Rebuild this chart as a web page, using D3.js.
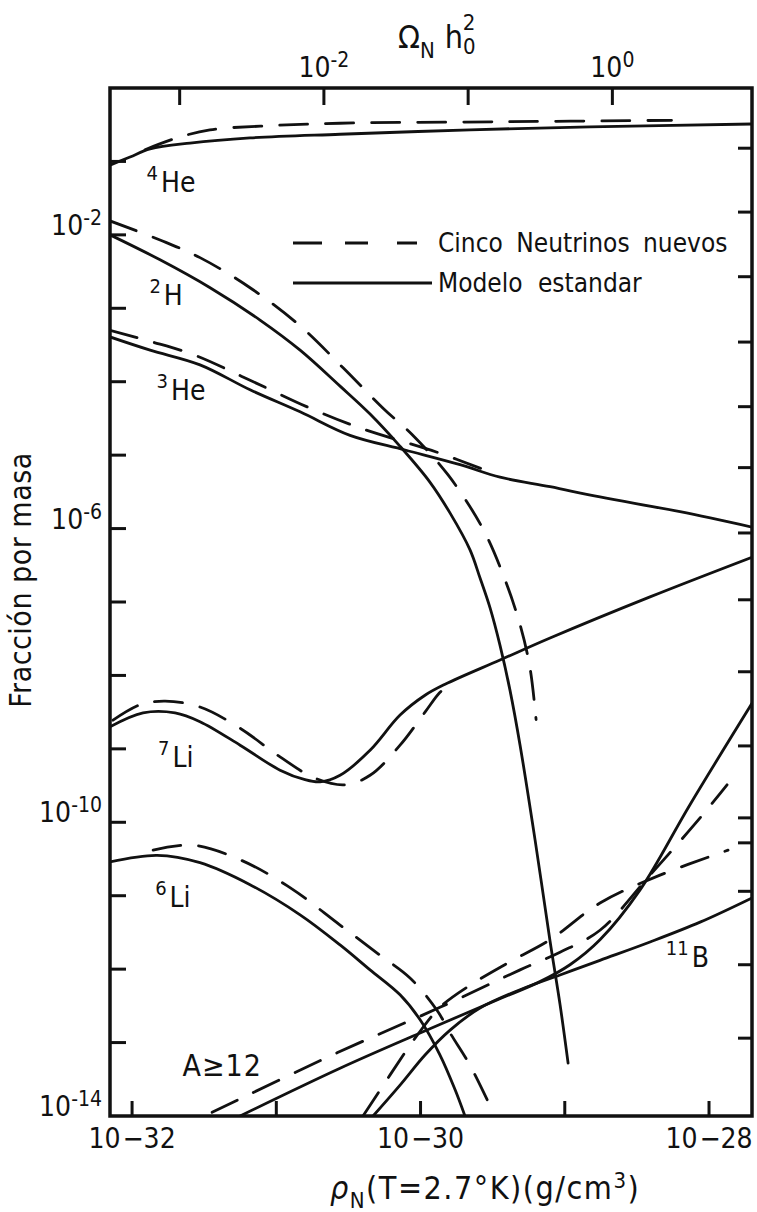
<!DOCTYPE html>
<html>
<head>
<meta charset="utf-8">
<script src="https://cdn.jsdelivr.net/npm/d3@7"></script>
<style>
  body { margin: 0; background: #fff; }
  svg text { font-family: "DejaVu Sans Condensed", "Liberation Sans Narrow", "Roboto Condensed", "DejaVu Sans", sans-serif; fill: #111; }
</style>
</head>
<body>
<div id="chart"></div>
<script>
// all values are log10: [log10 rho (g/cm3), log10 mass fraction]
const he4Std = [[-32.153,-1.05],[-32.014,-0.94],[-31.875,-0.83],[-31.598,-0.75],[-31.182,-0.68],[-30.558,-0.63],[-29.657,-0.57],[-28.825,-0.53],[-27.702,-0.49]];
const he4New = [[-31.91,-0.84],[-31.69,-0.68],[-31.46,-0.57],[-31.11,-0.52],[-30.56,-0.48],[-29.45,-0.46],[-28.26,-0.44]];
const h2Std = [[-32.153,-2.00],[-31.806,-2.34],[-31.459,-2.72],[-31.113,-3.16],[-30.835,-3.57],[-30.558,-4.06],[-30.350,-4.44],[-30.142,-4.88],[-29.934,-5.37],[-29.795,-5.79],[-29.657,-6.29],[-29.588,-6.67],[-29.518,-7.08],[-29.449,-7.59],[-29.380,-8.20],[-29.310,-8.95],[-29.206,-10.24],[-29.102,-11.62],[-29.033,-12.48],[-28.977,-13.28]];
const h2New = [[-32.153,-1.81],[-31.806,-2.07],[-31.529,-2.31],[-31.182,-2.72],[-30.835,-3.24],[-30.537,-3.81],[-30.260,-4.36],[-30.059,-4.72],[-29.809,-5.27],[-29.574,-5.98],[-29.435,-6.59],[-29.310,-7.31],[-29.241,-7.90],[-29.199,-8.60]];
const he3Std = [[-32.153,-3.39],[-31.875,-3.57],[-31.529,-3.77],[-31.182,-4.11],[-30.835,-4.41],[-30.489,-4.73],[-30.107,-4.93],[-29.726,-5.13],[-29.449,-5.30],[-29.102,-5.43],[-28.756,-5.57],[-28.201,-5.77],[-27.702,-5.98]];
const he3New = [[-32.153,-3.30],[-31.875,-3.45],[-31.563,-3.64],[-31.182,-3.98],[-30.766,-4.36],[-30.419,-4.63],[-29.886,-4.96],[-29.518,-5.23]];
const li7Std = [[-32.153,-8.70],[-31.924,-8.51],[-31.702,-8.51],[-31.529,-8.63],[-31.251,-8.95],[-30.974,-9.29],[-30.801,-9.42],[-30.697,-9.45],[-30.558,-9.36],[-30.350,-9.02],[-30.142,-8.54],[-29.969,-8.27],[-29.830,-8.12],[-29.449,-7.79],[-29.102,-7.49],[-28.409,-6.93],[-27.702,-6.39]];
const li7New = [[-32.132,-8.61],[-31.945,-8.40],[-31.771,-8.35],[-31.529,-8.43],[-31.251,-8.72],[-30.974,-9.11],[-30.731,-9.40],[-30.523,-9.49],[-30.350,-9.36],[-30.142,-8.95],[-29.969,-8.50],[-29.865,-8.23],[-29.795,-8.12]];
const li6Std = [[-32.153,-10.54],[-31.827,-10.45],[-31.529,-10.55],[-31.182,-10.85],[-30.835,-11.26],[-30.558,-11.67],[-30.350,-12.01],[-30.142,-12.35],[-30.003,-12.69],[-29.865,-13.17],[-29.761,-13.64],[-29.692,-14.0]];
const li6New = [[-31.854,-10.38],[-31.584,-10.31],[-31.251,-10.51],[-30.905,-10.89],[-30.558,-11.40],[-30.281,-11.81],[-30.073,-12.12],[-29.886,-12.56],[-29.795,-12.87],[-29.657,-13.31],[-29.497,-13.95]];
const aStd = [[-31.251,-14.0],[-30.558,-13.35],[-30.003,-12.87],[-29.470,-12.42],[-29.172,-12.17],[-28.964,-11.94],[-28.756,-11.60],[-28.478,-10.92],[-28.132,-9.76],[-27.702,-8.38]];
const aNew = [[-31.445,-13.95],[-30.579,-13.14],[-29.865,-12.52],[-29.310,-12.01],[-29.033,-11.77],[-28.756,-11.47],[-28.409,-10.72],[-28.062,-9.94],[-27.875,-9.49]];
const b11Std = [[-30.329,-14.0],[-30.142,-13.58],[-29.969,-13.17],[-29.795,-12.83],[-29.588,-12.53],[-29.310,-12.28],[-29.033,-12.08],[-28.756,-11.88],[-28.409,-11.63],[-28.062,-11.36],[-27.702,-11.03]];
const b11New = [[-30.399,-14.0],[-30.211,-13.44],[-30.038,-12.94],[-29.865,-12.52],[-29.657,-12.22],[-29.380,-11.90],[-29.102,-11.60],[-28.756,-11.10],[-28.340,-10.72],[-27.868,-10.38]];

const stdSeries = [he4Std, h2Std, he3Std, li7Std, li6Std, aStd, b11Std];
const newSeries = [he4New, h2New, he3New, li7New, li6New, aNew, b11New];

// axis ticks (log10)
const rhoTicks = [-32, -31, -30, -29, -28];
const rhoLabels = [-32, -30, -28];
const omegaTicks = [-3, -2, -1, 0];
const omegaLabels = [-2, 0];
const rhoCritLog = -28.67;   // where Omega h^2 = 1
const yTicks = [-1, -2, -3, -4, -5, -6, -7, -8, -9, -10, -11, -12, -13];
const yLabels = [-2, -6, -10, -14];
const rightTicks = [-0.82, -1.69, -2.57, -3.46, -4.34, -5.17, -6.06, -6.97, -7.95, -8.96, -9.94, -10.28, -10.94, -11.94, -12.94];

const isoLabels = [
  {sup: '4', base: 'He', rho: -31.90, y: -1.41},
  {sup: '2', base: 'H', rho: -31.88, y: -2.96},
  {sup: '3', base: 'He', rho: -31.83, y: -4.25},
  {sup: '7', base: 'Li', rho: -31.82, y: -9.25},
  {sup: '6', base: 'Li', rho: -31.84, y: -11.15},
  {sup: '11', base: 'B', rho: -28.30, y: -11.97}
];

const W = 757, H = 1212;
const m = {left: 110, right: 752, top: 88, bottom: 1116};

const svg = d3.select('#chart').append('svg')
  .attr('width', W).attr('height', H);
svg.append('rect').attr('width', W).attr('height', H).attr('fill', '#fff');

const x = d3.scaleLog().domain([Math.pow(10, -32.153), Math.pow(10, -27.702)]).range([m.left, m.right]);
const y = d3.scaleLog().domain([1e-14, 1]).range([m.bottom, m.top]);
const px = d => x(Math.pow(10, d[0]));
const py = d => y(Math.pow(10, d[1]));

svg.append('defs').append('clipPath').attr('id', 'clip')
  .append('rect').attr('x', m.left).attr('y', m.top)
  .attr('width', m.right - m.left).attr('height', m.bottom - m.top);

const line = d3.line().x(px).y(py).curve(d3.curveCatmullRom.alpha(0.5));

const curves = svg.append('g').attr('clip-path', 'url(#clip)')
  .attr('fill', 'none').attr('stroke', '#111').attr('stroke-linecap', 'round');
curves.selectAll('path.std').data(stdSeries).join('path')
  .attr('class', 'std').attr('d', line).attr('stroke-width', 2.8);
curves.selectAll('path.new').data(newSeries).join('path')
  .attr('class', 'new').attr('d', line).attr('stroke-width', 2.8)
  .attr('stroke-dasharray', '28 18');

// frame
svg.append('rect').attr('x', m.left).attr('y', m.top)
  .attr('width', m.right - m.left).attr('height', m.bottom - m.top)
  .attr('fill', 'none').attr('stroke', '#111').attr('stroke-width', 3.5);

// ticks
const ticks = svg.append('g').attr('stroke', '#111').attr('stroke-width', 3);
ticks.selectAll('line.b').data(rhoTicks).join('line').attr('class', 'b')
  .attr('x1', d => x(Math.pow(10, d))).attr('x2', d => x(Math.pow(10, d)))
  .attr('y1', m.bottom).attr('y2', m.bottom - 15);
ticks.selectAll('line.t').data(omegaTicks).join('line').attr('class', 't')
  .attr('x1', d => x(Math.pow(10, d + rhoCritLog))).attr('x2', d => x(Math.pow(10, d + rhoCritLog)))
  .attr('y1', m.top).attr('y2', m.top + 17);
ticks.selectAll('line.l').data(yTicks).join('line').attr('class', 'l')
  .attr('x1', m.left).attr('x2', m.left + 16)
  .attr('y1', d => y(Math.pow(10, d))).attr('y2', d => y(Math.pow(10, d)));
ticks.selectAll('line.r').data(rightTicks).join('line').attr('class', 'r')
  .attr('x1', m.right).attr('x2', m.right - 14)
  .attr('y1', d => y(Math.pow(10, d))).attr('y2', d => y(Math.pow(10, d)));

// tick labels
function powerLabel(g, exp, supScript) {
  g.append('tspan').text('10');
  if (supScript) {
    g.append('tspan').attr('dy', -10).attr('font-size', 21).text(exp < 0 ? '-' + (-exp) : exp);
  } else {
    g.append('tspan').attr('dx', 2).text(exp < 0 ? '\u2212' + (-exp) : exp);
  }
}
rhoLabels.forEach(e => {
  const t = svg.append('text').attr('x', x(Math.pow(10, e))).attr('y', m.bottom + 32)
    .attr('text-anchor', 'middle').attr('font-size', 28);
  powerLabel(t, e, false);
});
omegaLabels.forEach(e => {
  const t = svg.append('text').attr('x', x(Math.pow(10, e + rhoCritLog))).attr('y', m.top - 11)
    .attr('text-anchor', 'middle').attr('font-size', 28);
  powerLabel(t, e, true);
});
yLabels.forEach(e => {
  const t = svg.append('text').attr('x', m.left - 8).attr('y', y(Math.pow(10, e)))
    .attr('text-anchor', 'end').attr('font-size', 28);
  powerLabel(t, e, true);
});

// isotope labels
isoLabels.forEach(l => {
  const t = svg.append('text').attr('x', x(Math.pow(10, l.rho))).attr('y', y(Math.pow(10, l.y)))
    .attr('font-size', 28);
  t.append('tspan').attr('font-size', 20).attr('dy', -12).text(l.sup);
  t.append('tspan').attr('dy', 12).attr('dx', 3).text(l.base);
});
svg.append('text').attr('x', x(Math.pow(10, -31.65))).attr('y', y(Math.pow(10, -13.45)))
  .attr('font-size', 30).attr('letter-spacing', 1).text('A\u226512');

// legend
const leg = svg.append('g').attr('stroke', '#111').attr('stroke-width', 2.8);
leg.append('line').attr('x1', 293).attr('x2', 417).attr('y1', 243).attr('y2', 243)
  .attr('stroke-dasharray', '29 23 23 29 20 100');
leg.append('line').attr('x1', 293).attr('x2', 432).attr('y1', 283).attr('y2', 283);
svg.append('text').attr('x', 438).attr('y', 252).attr('font-size', 26)
  .attr('word-spacing', 6).text('Cinco Neutrinos nuevos');
svg.append('text').attr('x', 438).attr('y', 292).attr('font-size', 26)
  .attr('word-spacing', 8).text('Modelo estandar');

// axis titles
svg.append('text').attr('transform', 'translate(31,580) rotate(-90)')
  .attr('text-anchor', 'middle').attr('font-size', 30).attr('letter-spacing', 0.5)
  .text('Fracción por masa');

const xt = svg.append('text').attr('x', 330).attr('y', 1199).attr('font-size', 32)
  .attr('letter-spacing', 1.5);
xt.append('tspan').attr('font-style', 'italic').text('\u03C1');
xt.append('tspan').attr('font-size', 22).attr('dy', 9).text('N');
xt.append('tspan').attr('dy', -9).text('(T=2.7\u00B0K)(g/cm');
xt.append('tspan').attr('font-size', 22).attr('dy', -11).text('3');
xt.append('tspan').attr('dy', 11).text(')');

const tt = svg.append('text').attr('x', 398).attr('y', 48).attr('font-size', 32);
tt.append('tspan').text('\u03A9');
tt.append('tspan').attr('font-size', 22).attr('dy', 10).text('N');
tt.append('tspan').attr('dy', -10).attr('dx', 10).text('h');
tt.append('tspan').attr('font-size', 22).attr('dy', 6).text('0');
tt.append('tspan').attr('font-size', 22).attr('dy', -24).attr('dx', -13).text('2');
</script>
</body>
</html>
